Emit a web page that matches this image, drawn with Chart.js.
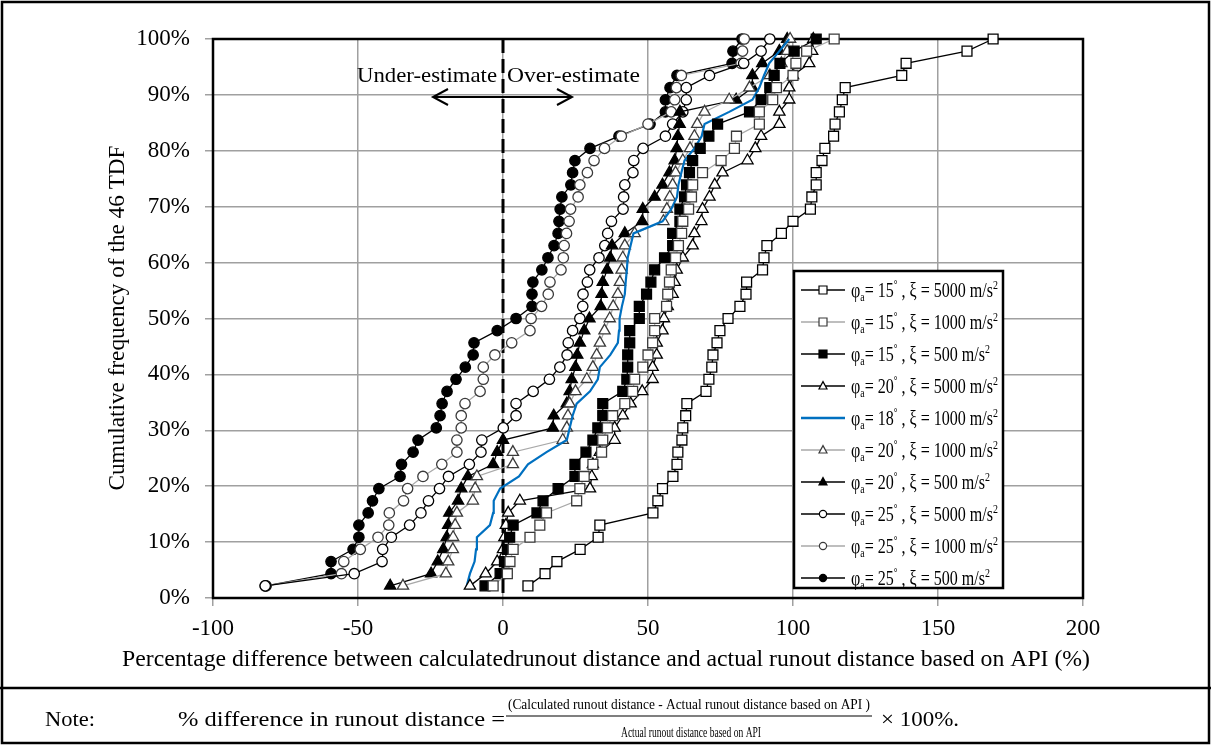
<!DOCTYPE html>
<html>
<head>
<meta charset="utf-8">
<script src="https://cdn.jsdelivr.net/npm/chart.js@4.4.0/dist/chart.umd.min.js"></script>
<style>
  html, body { margin: 0; padding: 0; background: #fff; }
  #wrap { position: relative; width: 1211px; height: 745px; }
</style>
</head>
<body>
<div id="wrap"><canvas id="runout" width="1211" height="745"></canvas></div>
<script>
// cumulative frequency of the 46 TDF (%), one step per case
var cumFreq = [2.17, 4.35, 6.52, 8.70, 10.87, 13.04, 15.22, 17.39, 19.57, 21.74,
  23.91, 26.09, 28.26, 30.43, 32.61, 34.78, 36.96, 39.13, 41.30, 43.48,
  45.65, 47.83, 50.00, 52.17, 54.35, 56.52, 58.70, 60.87, 63.04, 65.22,
  67.39, 69.57, 71.74, 73.91, 76.09, 78.26, 80.43, 82.61, 84.78, 86.96,
  89.13, 91.30, 93.48, 95.65, 97.83, 100];

// percentage difference (%) for each series, sorted
var p15x5000 = [8.6, 14.5, 18.6, 26.6, 32.8, 33.4, 51.7, 53.4, 55, 58.6, 60, 60.3, 61.7, 62, 63, 63.4,
  70, 71, 72, 72.4, 73.8, 74.8, 77.6, 81.7, 83.8, 84, 89.5, 90, 91, 96, 100, 106, 106.5, 108, 108,
  110, 111, 114, 114.5, 116, 117, 118, 137.5, 139, 160, 169];
var p15x1000 = [-3.4, 1.5, 2.4, 3.5, 9.3, 12.7, 15, 25.4, 26.5, 28, 31, 34, 34.4, 36, 37.8, 42,
  44.7, 45.4, 48.2, 50, 51.6, 52.3, 52.3, 56.4, 56.8, 57.4, 58, 59.5, 60.5, 61.6, 62, 64, 65, 65.4,
  68.8, 75.2, 79.8, 80.5, 88.4, 88.4, 93, 94.3, 100, 101, 104.7, 114.2];
var p15x500 = [-6.2, -1, 0.5, 1.5, 2.3, 3.5, 11.7, 13.8, 19, 24.8, 24.8, 28.6, 31, 32.7, 34.4, 34.4,
  41.3, 42.7, 43, 43, 43.7, 43.7, 47, 47, 49.5, 51, 52.3, 55.7, 58.5, 58.5, 61, 61, 62.6, 63.3, 64.3,
  65.4, 68, 71, 74, 85, 89, 92, 93.5, 95.5, 100.4, 108];
var p20x5000 = [-11.4, -6, -2, 0, 0.5, 1, 1.8, 5.8, 30, 30.6, 31, 33.4, 38.5, 38.5, 41.3, 44, 48,
  51.6, 51.6, 53, 53, 55, 55.5, 56.8, 58.5, 59.2, 59.9, 62, 65.4, 66, 68.4, 68.8, 71.2, 73, 75.7,
  84.3, 87, 89, 95.3, 95.3, 98.7, 98.7, 100, 105.6, 106.6, 107];
var p18x1000 = [-12.5, -11.4, -9.8, -9.3, -9, -4.5, -3.4, -3.2, -1, 5.5, 8.6, 15, 22, 23, 24, 25.4,
  30, 32.7, 33.4, 37, 39.6, 40, 40.2, 41, 42, 42.3, 42.7, 43, 44, 45, 55, 58, 60, 60.5, 61.5, 62.6,
  66, 68.5, 69.5, 78, 86, 88.4, 90, 91.8, 95.3, 98.7];
var p20x1000 = [-34.5, -19.7, -18.9, -17.3, -17.2, -16.5, -15.9, -10.4, -9.6, -9, 3.4, 3.4, 20.6,
  22, 22.4, 23, 25, 28.9, 31, 32.3, 33.4, 35, 36.8, 38, 39.6, 40.3, 40.9, 41.3, 42, 45.4, 55.3, 56.5,
  57.5, 58.5, 59.5, 62, 64.5, 66, 67, 69.5, 78, 85, 92, 96, 98, 99];
var p20x500 = [-38.9, -24.8, -22.5, -20.6, -19.4, -18.9, -18.5, -15.5, -14.4, -12.1, -3.4, -2, 0,
  17.2, 17.5, 22, 23, 23.7, 25, 25.6, 26.5, 28, 29.8, 33.7, 34, 34.4, 35.9, 37, 37.6, 42, 48, 48.2,
  52.3, 55, 57.4, 59.2, 59.9, 60.3, 60.9, 61, 80.4, 86, 86, 89.4, 95.3, 98];
var p25x5000 = [-82, -51.3, -41.7, -41.5, -38.5, -32.2, -28.3, -25.7, -21.9, -18.8, -11.6, -7.6,
  -7.3, 0.1, 4.5, 4.5, 10.4, 16, 19.6, 22.1, 22.5, 24, 26.5, 27.5, 27.6, 29.1, 29.9, 33.1, 35.1,
  36.1, 37.4, 41.4, 41.6, 42, 44.8, 45.1, 48.3, 56, 58.5, 62, 63.2, 63.2, 71.2, 83, 89, 92];
var p25x1000 = [-82, -55.7, -54.9, -49.2, -43.1, -39.4, -39.2, -34.3, -32.9, -27.6, -21.1, -15.9,
  -15.9, -14.4, -14.4, -13.1, -7.9, -6.8, -6.8, -2.8, 3, 9.3, 9.7, 13.3, 15.6, 16.2, 20, 20.8, 21.1,
  21.9, 22.8, 23.3, 25.9, 26.5, 29.1, 31.4, 35, 40.8, 50, 58, 59.2, 59.8, 61.5, 82.1, 82.6, 83.2];
var p25x500 = [-81.7, -59.3, -59.3, -51.7, -49.7, -49.7, -46.5, -45, -42.8, -35.5, -35, -31, -29.3,
  -23, -21.7, -21, -19.3, -16.2, -13, -10.3, -10, -2, 4.5, 10, 10, 10.3, 13.4, 15.5, 17.6, 19, 19.3,
  19.7, 20.3, 23.4, 24, 24.8, 30, 40, 50.7, 56, 56, 57.6, 60, 79, 79.3, 82.4];

var phiA = [15, 15, 15, 20, 18, 20, 20, 25, 25, 25];
var xiVal = [5000, 1000, 500, 5000, 1000, 1000, 500, 5000, 1000, 500];
var seriesX = [p15x5000, p15x1000, p15x500, p20x5000, p18x1000, p20x1000, p20x500, p25x5000, p25x1000, p25x500];

// look of each series
var GRAYLINE = '#a9a9a9';
var styles = [
  { marker: 'rect', filled: false, line: '#000', edge: '#000' },
  { marker: 'rect', filled: false, line: GRAYLINE, edge: '#3a3a3a' },
  { marker: 'rect', filled: true, line: '#000', edge: '#000' },
  { marker: 'triangle', filled: false, line: '#000', edge: '#000' },
  { marker: null, filled: false, line: '#0070c0', edge: '#0070c0' },
  { marker: 'triangle', filled: false, line: GRAYLINE, edge: '#3a3a3a' },
  { marker: 'triangle', filled: true, line: '#000', edge: '#000' },
  { marker: 'circle', filled: false, line: '#000', edge: '#000' },
  { marker: 'circle', filled: false, line: GRAYLINE, edge: '#3a3a3a' },
  { marker: 'circle', filled: true, line: '#000', edge: '#000' }
];
var markerSize = { rect: 7, triangle: 6.5, circle: 5.2 };

var SERIF = '"Liberation Serif", "Times New Roman", serif';

var datasets = seriesX.map(function (xs, i) {
  var st = styles[i];
  return {
    label: 'phi ' + phiA[i] + ' xi ' + xiVal[i],
    data: xs.map(function (x, k) { return { x: x, y: cumFreq[k] }; }),
    showLine: true,
    borderColor: st.line,
    borderWidth: st.marker ? 1.3 : 2.2,
    backgroundColor: st.filled ? '#000' : '#fff',
    pointStyle: st.marker || 'circle',
    pointRadius: st.marker ? markerSize[st.marker] : 0,
    pointBackgroundColor: st.filled ? '#000' : '#fff',
    pointBorderColor: st.edge,
    pointBorderWidth: 1.3,
    tension: 0,
    clip: false
  };
});

// text squeezed or stretched to a given width
function fitText(ctx, str, x, y, w, align) {
  var m = ctx.measureText(str).width;
  ctx.save();
  ctx.translate(x, y);
  ctx.scale(w / m, 1);
  ctx.textAlign = align;
  ctx.fillText(str, 0, 0);
  ctx.restore();
}

function drawMarker(ctx, kind, x, y, r, filled, edge) {
  ctx.save();
  ctx.fillStyle = filled ? '#000' : '#fff';
  ctx.strokeStyle = edge;
  ctx.lineWidth = 1.2;
  ctx.beginPath();
  if (kind === 'rect') {
    ctx.rect(x - r, y - r, 2 * r, 2 * r);
  } else if (kind === 'triangle') {
    ctx.moveTo(x, y - r * 1.1);
    ctx.lineTo(x + r, y + r * 0.75);
    ctx.lineTo(x - r, y + r * 0.75);
    ctx.closePath();
  } else {
    ctx.arc(x, y, r, 0, Math.PI * 2);
  }
  ctx.fill();
  ctx.stroke();
  ctx.restore();
}

// legend label pieces: phi_a = NN deg , xi = NNNN m/s^2
function legendParts(i) {
  return [
    ['\u03c6', 21, 0], ['a', 13, 4], ['= ' + phiA[i], 21, 0], ['\u00b0', 12, -9],
    [' , \u03be = ' + xiVal[i] + ' m/s', 21, 0], ['2', 13, -8]
  ];
}
function partsWidth(ctx, parts) {
  var w = 0;
  parts.forEach(function (p) { ctx.font = p[1] + 'px ' + SERIF; w += ctx.measureText(p[0]).width; });
  return w;
}

var framePlugin = {
  id: 'frame',
  beforeDatasetsDraw: function (chart) {
    var ctx = chart.ctx, a = chart.chartArea, xs = chart.scales.x;
    ctx.save();
    // zero line
    var x0 = xs.getPixelForValue(0);
    ctx.strokeStyle = '#000';
    ctx.lineWidth = 3;
    ctx.setLineDash([14, 6]);
    ctx.beginPath();
    ctx.moveTo(x0, a.top);
    ctx.lineTo(x0, a.bottom);
    ctx.stroke();
    ctx.setLineDash([]);
    // plot border
    ctx.lineWidth = 2.5;
    ctx.strokeRect(a.left, a.top, a.right - a.left, a.bottom - a.top);
    // under / over estimate note
    ctx.fillStyle = '#000';
    ctx.font = '21px ' + SERIF;
    ctx.textBaseline = 'alphabetic';
    fitText(ctx, 'Under-estimate', 497, 82, 140, 'right');
    fitText(ctx, 'Over-estimate', 507, 82, 133, 'left');
    ctx.lineWidth = 2;
    ctx.beginPath();
    ctx.moveTo(433, 97); ctx.lineTo(572, 97);
    ctx.moveTo(448, 89); ctx.lineTo(433, 97); ctx.lineTo(448, 105);
    ctx.moveTo(557, 89); ctx.lineTo(572, 97); ctx.lineTo(557, 105);
    ctx.stroke();
    ctx.restore();
  },
  afterDatasetsDraw: function (chart) {
    var ctx = chart.ctx;
    // legend box
    var bx = 794, by = 271, bw = 209, bh = 317;
    ctx.save();
    ctx.fillStyle = '#fff';
    ctx.fillRect(bx, by, bw, bh);
    ctx.strokeStyle = '#000';
    ctx.lineWidth = 2.5;
    ctx.strokeRect(bx, by, bw, bh);
    var squeeze = 147 / partsWidth(ctx, legendParts(0));
    for (var i = 0; i < styles.length; i++) {
      var st = styles[i];
      var cy = 290 + i * 32;
      ctx.strokeStyle = st.line;
      ctx.lineWidth = st.marker ? 1.5 : 2.5;
      ctx.beginPath();
      ctx.moveTo(801, cy); ctx.lineTo(845, cy);
      ctx.stroke();
      if (st.marker) drawMarker(ctx, st.marker, 823, cy, st.marker === 'circle' ? 3.6 : 4, st.filled, st.edge);
      ctx.save();
      ctx.fillStyle = '#000';
      ctx.textAlign = 'left';
      ctx.textBaseline = 'alphabetic';
      ctx.translate(851, cy + 7);
      ctx.scale(squeeze, 1);
      var tx = 0;
      legendParts(i).forEach(function (p) {
        ctx.font = p[1] + 'px ' + SERIF;
        ctx.fillText(p[0], tx, p[2]);
        tx += ctx.measureText(p[0]).width;
      });
      ctx.restore();
    }
    ctx.restore();
  },
  afterDraw: function (chart) {
    var ctx = chart.ctx;
    ctx.save();
    ctx.fillStyle = '#000';
    ctx.textBaseline = 'middle';
    ctx.font = '23px ' + SERIF;
    // axis titles
    fitText(ctx, 'Percentage difference between calculatedrunout distance and actual runout distance based on API (%)',
      606, 660, 968, 'center');
    ctx.save();
    ctx.translate(118, 318);
    ctx.rotate(-Math.PI / 2);
    fitText(ctx, 'Cumulative frequency of the 46 TDF', 0, 0, 345, 'center');
    ctx.restore();
    // outer frame and note row
    ctx.strokeStyle = '#000';
    ctx.lineWidth = 2.5;
    ctx.strokeRect(2, 2, 1207, 741);
    ctx.beginPath();
    ctx.moveTo(0, 688); ctx.lineTo(1211, 688);
    ctx.stroke();
    ctx.textBaseline = 'alphabetic';
    ctx.font = '22px ' + SERIF;
    fitText(ctx, 'Note:', 45, 726, 50, 'left');
    fitText(ctx, '% difference in runout distance =', 178, 726, 327, 'left');
    fitText(ctx, '\u00d7 100%.', 881, 726, 78, 'left');
    ctx.font = '15px ' + SERIF;
    fitText(ctx, '(Calculated runout distance - Actual runout distance based on API )', 508, 709, 362, 'left');
    ctx.font = '14px ' + SERIF;
    fitText(ctx, 'Actual runout distance based on API', 691, 737, 140, 'center');
    ctx.lineWidth = 1.2;
    ctx.beginPath();
    ctx.moveTo(506, 716); ctx.lineTo(872, 716);
    ctx.stroke();
    ctx.restore();
  }
};

new Chart(document.getElementById('runout'), {
  type: 'scatter',
  data: { datasets: datasets },
  options: {
    responsive: false,
    animation: false,
    layout: { padding: { left: 0, right: 128, top: 39, bottom: 67 } },
    plugins: {
      legend: { display: false },
      tooltip: { enabled: false }
    },
    scales: {
      x: {
        type: 'linear',
        min: -100,
        max: 200,
        ticks: { stepSize: 50, color: '#000', padding: 9, maxRotation: 0, font: { family: SERIF, size: 23 } },
        grid: { color: '#a0a0a0', lineWidth: 1.5, tickLength: 8 },
        border: { display: false },
        afterFit: function (s) { s.height = 80; }
      },
      y: {
        min: 0,
        max: 100,
        ticks: {
          stepSize: 10, color: '#000', padding: 15, font: { family: SERIF, size: 23 },
          callback: function (v) { return v + '%'; }
        },
        grid: { color: '#a0a0a0', lineWidth: 1.5, tickLength: 8 },
        border: { display: false },
        afterFit: function (s) { s.width = 213; }
      }
    }
  },
  plugins: [framePlugin]
});
</script>
</body>
</html>
